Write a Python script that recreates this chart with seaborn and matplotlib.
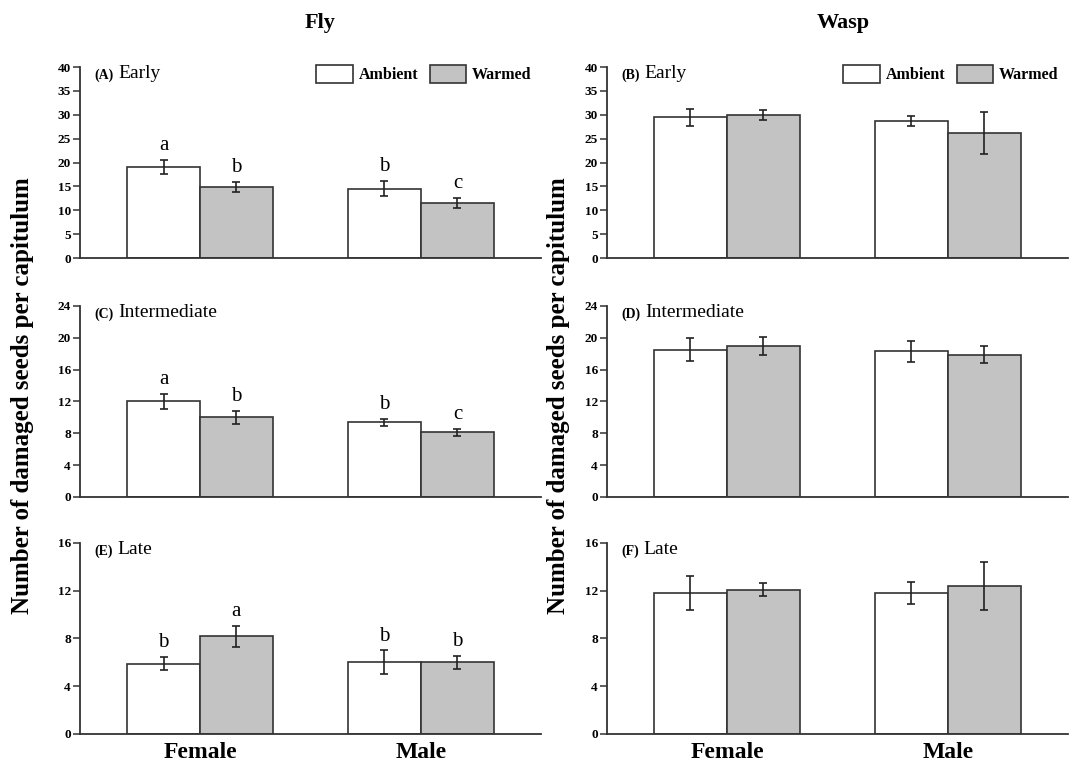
import numpy as np
import pandas as pd
import matplotlib
matplotlib.use("Agg")
import matplotlib.pyplot as plt
import seaborn as sns
from matplotlib.patches import Patch

sns.set_theme(style="white")
plt.rcParams['font.family'] = ['Liberation Serif', 'DejaVu Serif']
plt.rcParams['text.color'] = 'black'
plt.rcParams['axes.labelcolor'] = 'black'
plt.rcParams['xtick.color'] = 'black'
plt.rcParams['ytick.color'] = 'black'

sexes = ["Female", "Male"]
treatments = ["Ambient", "Warmed"]
insects = ["Fly", "Wasp"]
phases = ["Early", "Intermediate", "Late"]
panel_ids = [["(A)", "(B)"], ["(C)", "(D)"], ["(E)", "(F)"]]
ylims = [40, 24, 16]
yticks = [[0, 5, 10, 15, 20, 25, 30, 35, 40], [0, 4, 8, 12, 16, 20, 24], [0, 4, 8, 12, 16]]

# means ordered: Female-Ambient, Female-Warmed, Male-Ambient, Male-Warmed
fly_early = [19.0, 14.9, 14.5, 11.5]
fly_early_se = [1.5, 1.1, 1.6, 1.1]
fly_inter = [12.0, 10.0, 9.4, 8.15]
fly_inter_se = [1.0, 0.85, 0.45, 0.45]
fly_late = [5.9, 8.2, 6.0, 6.0]
fly_late_se = [0.55, 0.88, 1.0, 0.55]
wasp_early = [29.5, 29.9, 28.7, 26.2]
wasp_early_se = [1.8, 1.1, 1.1, 4.4]
wasp_inter = [18.5, 19.0, 18.3, 17.9]
wasp_inter_se = [1.45, 1.1, 1.3, 1.05]
wasp_late = [11.8, 12.1, 11.8, 12.4]
wasp_late_se = [1.4, 0.55, 0.95, 2.0]

fly_early_letters = ["a", "b", "b", "c"]
fly_inter_letters = ["a", "b", "b", "c"]
fly_late_letters = ["b", "a", "b", "b"]

means = {("Fly", 0): fly_early, ("Fly", 1): fly_inter, ("Fly", 2): fly_late,
         ("Wasp", 0): wasp_early, ("Wasp", 1): wasp_inter, ("Wasp", 2): wasp_late}
ses = {("Fly", 0): fly_early_se, ("Fly", 1): fly_inter_se, ("Fly", 2): fly_late_se,
       ("Wasp", 0): wasp_early_se, ("Wasp", 1): wasp_inter_se, ("Wasp", 2): wasp_late_se}
letters = {("Fly", 0): fly_early_letters, ("Fly", 1): fly_inter_letters, ("Fly", 2): fly_late_letters}

edge = "#333333"
colors = {"Ambient": "#ffffff", "Warmed": "#c3c3c3"}

fig = plt.figure(figsize=(10.72, 7.64), dpi=100)
lefts = [0.0746, 0.5662]
width = 0.430
bottoms = [0.6623, 0.3495, 0.0393]
height = 0.25
title_x = [0.2985, 0.7864]

for ci, insect in enumerate(insects):
    for ri, phase in enumerate(phases):
        ax = fig.add_axes([lefts[ci], bottoms[ri], width, height])
        m = means[(insect, ri)]
        s = ses[(insect, ri)]
        df = pd.DataFrame({
            "sex": [sx for sx in sexes for _ in treatments],
            "trt": [t for _ in sexes for t in treatments],
            "val": m,
            "se": s,
        })
        sns.barplot(data=df, x="sex", y="val", hue="trt", order=sexes, hue_order=treatments,
                    palette=colors, edgecolor=edge, linewidth=1.2, width=0.66,
                    errorbar=None, ax=ax, legend=False, saturation=1)
        bar_conts = list(ax.containers)
        # error bars and letters from bar geometry
        for hi, cont in enumerate(bar_conts):
            for si, bar in enumerate(cont.patches):
                idx = si * 2 + hi
                xc = bar.get_x() + bar.get_width() / 2
                ax.errorbar(xc, m[idx], yerr=s[idx], fmt="none", ecolor="#222222",
                            elinewidth=1.2, capsize=3, capthick=1.2)
                if (insect, ri) in letters:
                    ax.annotate(letters[(insect, ri)][idx], xy=(xc, m[idx] + s[idx]),
                                xytext=(0, 3.5), textcoords="offset points",
                                ha="center", va="bottom", fontsize=15)
        ax.set_xlim(-0.543, 1.543)
        ax.set_ylim(0, ylims[ri])
        ax.set_yticks(yticks[ri])
        ax.set_yticklabels([str(v) for v in yticks[ri]], fontweight="bold", fontsize=9.5,
                           color="black")
        ax.set_xlabel("")
        ax.set_ylabel("")
        if ri == 2:
            ax.set_xticks([0, 1])
            ax.set_xticklabels(sexes, fontweight="bold", fontsize=17, color="black")
        else:
            ax.set_xticks([])
        sns.despine(ax=ax)
        for sp in ["left", "bottom"]:
            ax.spines[sp].set_color(edge)
            ax.spines[sp].set_linewidth(1.3)
        ax.tick_params(axis="y", direction="out", length=5, width=1.1, color=edge, pad=1.5, left=True)
        ax.tick_params(axis="x", length=0, pad=6)
        lab = ax.text(0.031, 0.937, panel_ids[ri][ci], transform=ax.transAxes,
                      fontsize=10, fontweight="bold", ha="left", va="baseline")
        ax.annotate(phase, xy=(1, 0), xycoords=lab, xytext=(3.5, 0), textcoords="offset points",
                    fontsize=14, ha="left", va="bottom")
        if ri == 0:
            handles = [Patch(facecolor=colors[t], edgecolor=edge, linewidth=1.2) for t in treatments]
            ax.legend(handles, treatments, ncol=2, frameon=False, loc="upper right",
                      bbox_to_anchor=(1.0, 1.06), prop={"weight": "bold", "size": 11.5},
                      handlelength=2.3, handleheight=1.3, handletextpad=0.35,
                      columnspacing=0.7, borderaxespad=0.2, labelcolor="black")
    fig.text(title_x[ci], 1 - 23 / 764, insect, fontsize=16, fontweight="bold",
             ha="center", va="center")

fig.text(0.021, 0.482, "Number of damaged seeds per capitulum", rotation=90,
         fontsize=18, fontweight="bold", ha="center", va="center")
fig.text(0.521, 0.482, "Number of damaged seeds per capitulum", rotation=90,
         fontsize=18, fontweight="bold", ha="center", va="center")

fig.savefig("out.png", dpi=100, facecolor="white")
